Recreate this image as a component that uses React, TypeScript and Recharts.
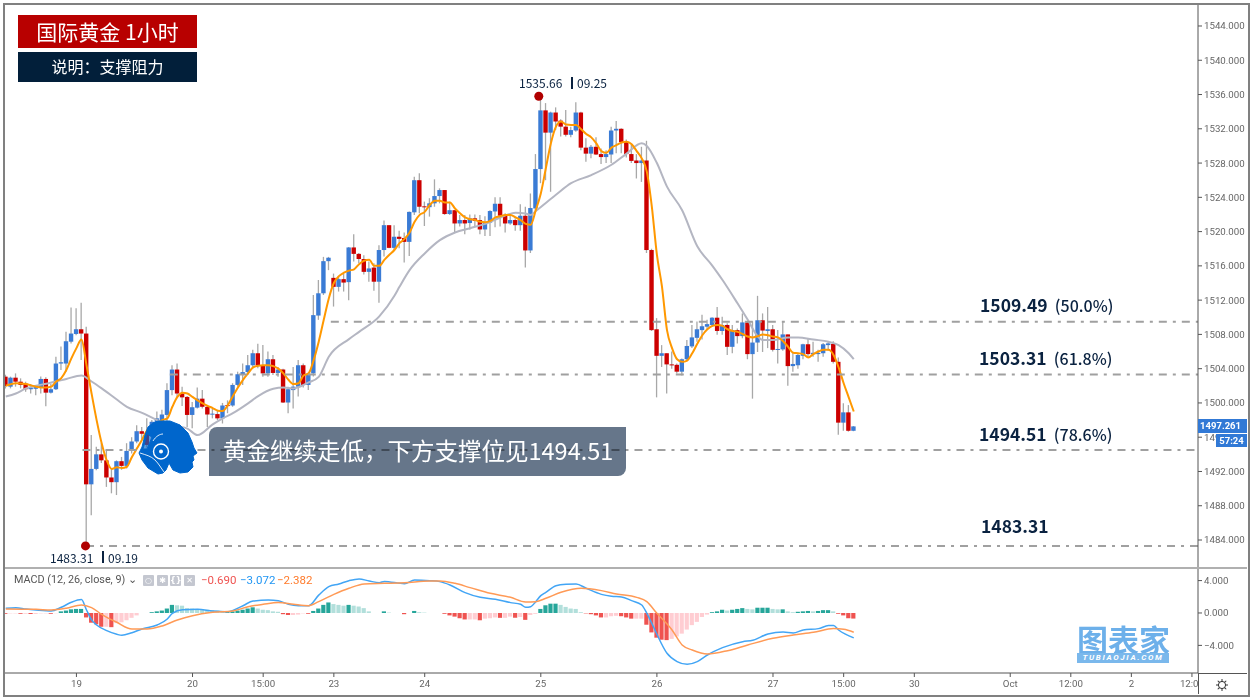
import { ComposedChart, Bar, Line, XAxis, YAxis, ReferenceLine, ReferenceDot, Cell } from 'recharts';

// open, high, low, close per hourly candle
const ohlc: number[][] = [
  [1503.07,1503.3,1501.7,1501.98],[1501.9,1503.07,1501.7,1502.95],[1502.95,1503.45,1501.9,1502.48],[1502.48,1502.87,1501.7,1502.1],
  [1502.25,1502.48,1501.3,1501.6],[1501.6,1502.2,1501.1,1501.8],[1501.65,1502.1,1500.9,1501.85],[1501.8,1503.1,1501.1,1502.8],
  [1502.8,1503,1499.6,1501.2],[1501.2,1502.2,1501.1,1501.6],[1501.6,1505.4,1501.5,1504.6],[1504.6,1506.6,1503.85,1504.75],
  [1504.6,1508.3,1503.65,1507.2],[1507.15,1511.15,1506.95,1508.1],[1508.05,1511.05,1507.9,1508.6],[1508.6,1511.7,1505,1508.1],
  [1508.1,1508.9,1483.31,1490.5],[1490.5,1496.25,1486.9,1492.3],[1492.3,1494.9,1492.15,1494],[1494,1495.3,1493,1493.3],
  [1493.3,1494.5,1490.2,1491.3],[1491.3,1492.4,1489.45,1490.75],[1490.75,1493.3,1489.25,1493.2],[1493.2,1493.7,1492.2,1492.65],
  [1492.65,1495.3,1492.35,1494.4],[1494.4,1496,1494.1,1495.5],[1495.5,1497.4,1495.3,1496.7],[1496.7,1497.2,1495.7,1496.4],
  [1496.45,1498.2,1494.8,1495.1],[1496.1,1498,1495.9,1497.8],[1497,1499,1496.8,1498.2],[1497.8,1499.2,1497.5,1498.65],
  [1498.6,1502.3,1497.6,1501.5],[1501.5,1504.4,1500.9,1503.9],[1503.9,1504.6,1500.7,1501.1],[1501.1,1501.9,1499.65,1500.65],
  [1500.7,1500.8,1497.2,1498.6],[1498.6,1500.1,1497.05,1499.5],[1499.45,1501.8,1499.35,1500.5],[1500.5,1501.5,1499.35,1499.55],
  [1499.55,1499.65,1497.2,1498.65],[1498.65,1499.35,1498.2,1498.75],[1498.7,1499.2,1498,1498.2],[1498.2,1500,1497.6,1499.7],
  [1499.75,1500.3,1498.8,1499.7],[1499.7,1502.3,1499.55,1502.1],[1502.1,1503.65,1501.9,1503.35],[1503.35,1504.6,1502.1,1503.6],
  [1503.6,1505.6,1503.25,1504.4],[1504.4,1506.2,1504.05,1505.8],[1505.8,1506.9,1504.05,1504.4],[1504.4,1506.75,1503.05,1503.45],
  [1503.45,1506,1503.05,1505.1],[1505.1,1505.6,1503.25,1503.5],[1503.5,1504.2,1503.05,1503.9],[1503.9,1504,1500,1500.05],
  [1500.05,1501.9,1498.8,1501.6],[1501.5,1504.2,1499.35,1501.9],[1501.9,1505,1500.75,1504.4],[1504.4,1504.6,1501.8,1502.1],
  [1502.1,1503.5,1501.5,1503.4],[1503.45,1512.6,1503.1,1510.25],[1510.2,1514.35,1509.7,1512.8],[1512.8,1517.05,1512.6,1516.55],
  [1516.55,1517.05,1515.5,1516.95],[1514.6,1515.1,1511.25,1513.55],[1513.55,1514.75,1513,1514.45],[1514.45,1515.1,1513,1514.05],
  [1514.1,1518.2,1512,1518.15],[1518.15,1519.7,1516.5,1517.4],[1517.4,1517.5,1516.3,1516.8],[1516.8,1517.25,1515,1515.3],
  [1515.3,1516.5,1514.15,1515.7],[1515.8,1516.3,1513.1,1514.15],[1514.15,1518.4,1511.7,1517.85],[1517.85,1521.3,1517.1,1520.75],
  [1520.75,1520.75,1518.05,1518.1],[1518.1,1520.75,1517.85,1519.4],[1519.4,1520.1,1518.05,1519.15],[1519.25,1519.9,1516.4,1518.8],
  [1518.8,1522.35,1517.15,1522.3],[1522.25,1526.4,1521.95,1526],[1526,1526.8,1522.15,1522.9],[1522.95,1523.5,1520.65,1522.9],
  [1522.85,1523.9,1521.75,1523.3],[1523.3,1526.1,1522.9,1524.15],[1524.15,1525.05,1523.3,1524.85],[1524.85,1524.85,1521.95,1522.05],
  [1522.05,1523.5,1521.95,1522.5],[1522.5,1522.5,1519.9,1520.95],[1520.95,1521.95,1520.6,1521.35],[1521.35,1521.95,1519.7,1520.95],
  [1521,1522,1520.25,1521.55],[1521.55,1522,1520.6,1521.25],[1521.35,1521.95,1519.7,1520.25],[1520.25,1521.8,1519.5,1521.1],
  [1521.05,1522.5,1519.5,1522.4],[1522.35,1524,1520.5,1523.25],[1523.25,1524,1520.6,1521.85],[1521.95,1522.15,1519.9,1520.95],
  [1520.95,1521.95,1520.8,1521.35],[1521.35,1521.55,1520.1,1520.75],[1520.75,1523.2,1520.1,1521.85],[1521.85,1522.9,1515.8,1517.8],
  [1517.8,1524.45,1517.5,1522.75],[1522.7,1529.05,1522.5,1527.3],[1527.3,1535.66,1525.65,1534.15],[1534.15,1535,1526,1531.55],
  [1531.55,1534,1524.65,1533.9],[1533.9,1534.5,1531.85,1532.85],[1532.95,1533.1,1531.1,1532.25],[1532.25,1534.2,1531.1,1531.3],
  [1531.3,1532.25,1531,1531.85],[1531.8,1535.1,1531.65,1533.9],[1533.9,1534,1529.5,1529.8],[1529.8,1530.9,1528.15,1529.1],
  [1529.1,1530.1,1528.55,1529.9],[1529.9,1531,1528.95,1529],[1529.05,1529.7,1527.9,1528.7],[1528.7,1529.5,1528,1529.05],
  [1529,1532.25,1528,1531.8],[1531.8,1532.9,1529.15,1532],[1532,1532.05,1529.15,1530.45],[1530.5,1530.75,1528.65,1529.05],
  [1529.05,1530.1,1528,1528.25],[1528.3,1529.05,1526.2,1528],[1528,1529.9,1525.8,1528.3],[1528.3,1530.6,1517.5,1517.85],
  [1517.85,1518,1508.4,1508.5],[1508.6,1509.9,1500.65,1505.5],[1505.5,1506.75,1504.2,1505.8],[1505.8,1505.8,1501.1,1504.5],
  [1504.5,1506,1504,1504.45],[1504.45,1504.6,1503.45,1503.65],[1503.65,1505.2,1503.2,1505.1],[1505.1,1507.35,1504.9,1506.65],
  [1506.6,1509.1,1506.4,1507.65],[1507.6,1509.5,1507.15,1508.6],[1508.5,1510.3,1507.4,1508.95],[1508.9,1509.7,1508.6,1509.2],
  [1509.1,1510,1508.9,1509.95],[1509.95,1511.2,1507.95,1508.4],[1508.4,1510.05,1507.95,1509.1],[1509.1,1509.3,1505.6,1506.55],
  [1506.55,1509.1,1505.8,1508.5],[1508.5,1508.7,1506.95,1507.8],[1507.8,1510.45,1507.55,1509.4],[1509.4,1509.5,1505.1,1505.7],
  [1505.7,1509.5,1500.5,1507.05],[1507.05,1512.5,1505.95,1509.65],[1509.65,1510.45,1505.95,1508.45],[1508.4,1511.2,1506.4,1508.6],
  [1508.6,1509.1,1506,1506.2],[1506.2,1508.5,1504.6,1506.3],[1506.25,1509.5,1506.1,1508],[1508,1508,1502,1504.3],
  [1504.3,1505.8,1503.65,1504.55],[1504.4,1505.7,1504,1505.6],[1505.5,1506.9,1505.1,1506.85],[1506.85,1507.55,1505.3,1505.7],
  [1505.7,1507.15,1505.4,1505.85],[1505.7,1506.2,1504.8,1505.85],[1505.8,1507,1505.4,1506.85],[1506.75,1507.2,1506.1,1506.95],
  [1506.9,1507.2,1504.6,1504.8],[1504.8,1505.3,1496.3,1497.7],[1497.7,1499.95,1496.75,1498.9],[1498.9,1499.75,1496.65,1496.75],
  [1496.75,1497.3,1496.7,1497.261],
];

// [candle index, value] readings of the indicator lines
const fastMa: number[][] = [
  [0,1502],[2,1502.3],[4,1502.2],[6,1501.9],[8,1501.8],[9,1501.9],[10,1502.5],[11,1502.9],[12,1503.85],[13,1505.2],[14,1506.4],[15,1507.4],
  [16,1504.4],[17,1501.1],[18,1498],[19,1495.3],[20,1493.3],[21,1492.3],[22,1492.5],[23,1492.4],[24,1492.55],[25,1493.7],[26,1494.7],[27,1495.7],
  [28,1496.8],[29,1497.2],[30,1497.6],[31,1498],[32,1498.2],[33,1499.55],[34,1500.7],[35,1501.2],[36,1501.1],[37,1500.7],[38,1500.3],[39,1499.95],
  [40,1499.65],[41,1499.4],[42,1499.1],[43,1499.05],[44,1499.75],[45,1500.8],[46,1501.8],[47,1502.7],[48,1503.45],[49,1504.15],[50,1504.35],[51,1504.4],
  [52,1504.4],[53,1504.3],[54,1504],[55,1503.45],[56,1502.7],[57,1502.2],[58,1502.3],[59,1503.2],[60,1503.45],[61,1505],[62,1507.15],[63,1509.7],
  [64,1512.2],[65,1514],[66,1514.8],[67,1515.2],[68,1515.45],[69,1515.6],[70,1516.2],[71,1516.6],[72,1516.7],[73,1516],[74,1516],[75,1516.7],
  [76,1517.3],[77,1517.85],[78,1518.65],[79,1519.15],[80,1519.9],[81,1521.15],[82,1521.95],[83,1522.3],[84,1523.1],[85,1523.6],[86,1523.6],[87,1523.4],
  [88,1523.4],[89,1522.7],[90,1522.15],[91,1521.65],[92,1521.45],[93,1521.35],[94,1521.15],[95,1521.1],[96,1521.25],[97,1521.65],[98,1521.8],[99,1521.95],
  [100,1521.95],[101,1521.65],[102,1521.35],[103,1520.9],[104,1520.8],[105,1522.5],[106,1524.45],[107,1527.4],[108,1530.3],[109,1532.25],[110,1532.85],[111,1532.5],
  [112,1532.45],[113,1532.45],[114,1531.95],[115,1531.4],[116,1531],[117,1530.3],[118,1529.4],[119,1529.2],[120,1529.8],[121,1530.1],[122,1530.4],[123,1530.5],
  [124,1530.2],[125,1529.4],[126,1528.55],[127,1527],[128,1522.9],[129,1517.3],[130,1513.6],[131,1508.5],[132,1506.4],[133,1505.1],[134,1504.8],[135,1504.95],
  [136,1505.8],[137,1506.9],[138,1507.9],[139,1508.6],[140,1509],[141,1509.1],[142,1509],[143,1508.6],[144,1508.4],[145,1508.3],[146,1508.05],[147,1507.75],
  [148,1507.65],[149,1507.8],[150,1508],[151,1507.9],[152,1507.75],[153,1507.65],[154,1507.2],[155,1506.55],[156,1505.85],[157,1505.8],[158,1505.7],[159,1505.3],
  [160,1505.7],[161,1506],[162,1506.2],[163,1506.2],[164,1505.6],[165,1504.15],[166,1502.3],[167,1500.65],[168,1499],
];
const slowMa: number[][] = [
  [0,1500.75],[2,1501.1],[4,1501.7],[6,1502],[8,1502.25],[10,1502.5],[12,1502.8],[15,1503.2],[17,1502.5],[19,1501.7],[22,1500.4],[24,1499.55],
  [27,1498.85],[30,1498],[33,1497.4],[36,1497],[38,1496.25],[41,1497.5],[43,1498.2],[45,1498.8],[48,1499.95],[50,1500.8],[53,1501.65],[55,1501.8],
  [57,1501.7],[60,1502.4],[62,1503.05],[64,1505.4],[68,1507.45],[70,1508.3],[74,1510.1],[77,1512.5],[78,1513.55],[80,1515.5],[83,1517.45],[86,1519],
  [89,1519.9],[92,1520.4],[95,1520.9],[98,1521.65],[101,1522.2],[103,1522.1],[104,1521.95],[105,1522.4],[109,1524.3],[112,1525.65],[116,1526.6],[120,1527.8],
  [123,1529.1],[126,1530.3],[127,1530],[129,1528],[131,1525.25],[134,1522.5],[137,1518.3],[140,1516],[142,1514.35],[145,1511.6],[147,1509.7],[149,1507.75],
  [150,1507.35],[152,1507.35],[155,1507.65],[157,1507.65],[160,1507.4],[163,1507.15],[165,1506.75],[167,1505.8],[168,1505.1],
];
const macdLine: number[][] = [
  [0,0.58],[2,0.66],[4,0.49],[6,0.37],[9,0.25],[11,0.7],[13,1.32],[15,1.65],[16,0.37],[17,-0.86],[18,-1.48],[20,-2.18],[22,-2.63],[23,-2.76],[25,-2.43],
  [27,-1.98],[30,-1.48],[32,-0.74],[33,-0.04],[35,0.41],[38,0.45],[41,0.25],[44,0.16],[47,0.9],[49,1.48],[52,1.6],[54,1.52],[56,1.07],[58,0.9],[60,0.9],
  [62,2.2],[64,3.25],[66,3.58],[68,3.99],[70,4.2],[72,3.95],[74,3.74],[75,3.9],[79,3.62],[81,4.07],[84,3.99],[86,3.87],[88,3.46],[91,2.51],[94,1.93],
  [97,1.69],[100,1.28],[102,1.07],[103,0.7],[104,0.78],[105,1.4],[106,2.14],[107,2.55],[109,3.37],[111,3.54],[113,3.58],[115,3.05],[118,2.3],[120,2.06],[122,1.98],
  [124,1.52],[126,0.99],[127,-0.04],[128,-1.28],[129,-2.63],[131,-4.98],[133,-6],[135,-6.34],[137,-6],[139,-5.19],[142,-4.28],[146,-3.54],[148,-3.37],[151,-2.59],
  [154,-2.35],[156,-2.47],[158,-2.1],[161,-1.93],[163,-1.56],[164,-1.56],[165,-2.1],[168,-3.072],
];
const signalLine: number[][] = [
  [0,0.49],[6,0.45],[9,0.37],[12,0.58],[15,0.99],[17,0.66],[19,-0.16],[22,-1.15],[25,-1.98],[28,-1.98],[31,-1.6],[34,-0.86],[37,-0.33],[41,0.08],[45,0.25],
  [48,0.78],[51,1.07],[54,1.28],[57,1.07],[60,0.9],[62,1.4],[65,2.3],[68,3.05],[71,3.58],[75,3.66],[79,3.74],[84,3.95],[86,3.95],[89,3.66],[92,3.13],
  [96,2.43],[100,1.93],[103,1.36],[105,1.4],[107,1.81],[110,2.55],[114,3.05],[118,2.76],[121,2.35],[125,1.93],[127,1.4],[129,-0.04],[132,-2.1],[134,-3.95],[136,-4.57],
  [139,-5.06],[143,-4.65],[147,-3.95],[152,-3.13],[156,-2.72],[160,-2.39],[164,-1.93],[166,-2.02],[168,-2.382],
];
const macdHist = [
  -0.1,-0.05,-0.05,-0.1,-0.1,-0.12,-0.12,-0.05,-0.05,-0.1,-0.03,
  0.2,0.3,0.45,0.5,0.5,
  -0.55,-1.2,-1.4,-1.7,-1.7,-1.75,-1.25,-1.15,-0.9,-0.6,-0.3,0,0,
  0.1,0.2,0.3,0.55,1,0.95,0.9,0.6,0.55,0.5,0.45,0.4,0.35,0.3,
  0.15,0.2,0.2,0.3,0.4,0.55,0.7,0.55,0.4,0.35,0.2,0.15,
  -0.15,-0.25,-0.25,-0.2,-0.05,-0.1,
  0.25,0.55,1,1.3,1.1,1,0.9,1,0.9,0.8,0.6,0.2,0,0,0.2,0.05,0,0,-0.15,0,0.25,0.1,0.05,0,0,0,
  -0.1,-0.3,-0.45,-0.65,-0.8,-0.8,-0.8,-0.9,-0.7,-0.65,-0.55,-0.6,-0.6,-0.45,-0.6,-0.5,-0.85,-0.25,-0.1,
  0.5,0.95,1.15,1.15,1,0.75,0.55,0.5,0.1,
  -0.05,-0.15,-0.3,-0.55,-0.55,-0.4,-0.35,-0.4,-0.55,-0.7,-0.7,-0.7,-1.45,-2.4,-3.05,-3.3,-3.35,-3.2,-2.9,-2.55,-2.05,-1.5,-1.1,-0.5,-0.2,
  0.1,0.2,0.4,0.3,0.4,0.5,0.6,0.5,0.45,0.65,0.65,0.65,0.5,0.45,0.45,0.2,0.1,0.15,0.2,0.25,0.2,0.25,0.35,0.35,0.2,
  -0.1,-0.3,-0.65,-0.69,
];

const priceTicks = [1484,1488,1492,1496,1500,1504,1508,1512,1516,1520,1524,1528,1532,1536,1540,1544];
const macdTicks = [-4,0,4];
const timeTicks = [14,37,51,65,83,106,129,152,166,180,199,211,223,235];
const timeLabels = ['19','20','15:00','23','24','25','26','27','15:00','30','Oct','12:00','2','12:00'];
const levels = [
  { price: 1509.49, from: 64.4 },
  { price: 1503.31, from: 32.5 },
  { price: 1494.51, from: 15.2 },
  { price: 1483.31, from: 15.9 },
];

const lookup = (pairs: number[][], i: number) => {
  const hit = pairs.find((p) => p[0] === i);
  return hit ? hit[1] : null;
};

const rows = ohlc.map((c, i) => ({
  i,
  open: c[0],
  close: c[3],
  range: [c[2], c[1]],
  fast: lookup(fastMa, i),
  slow: lookup(slowMa, i),
  macd: lookup(macdLine, i),
  signal: lookup(signalLine, i),
  hist: macdHist[i],
}));

const histColor = (i: number) => {
  const v = macdHist[i];
  const prev = i > 0 ? macdHist[i - 1] : 0;
  if (v >= 0) return v >= prev ? '#26a69a' : '#b2dfdb';
  return v < prev ? '#ef5350' : '#ffcdd2';
};

const xDomain: [number, number] = [-0.15, 236.2];
const axisFont = { fontSize: 9.7, fill: '#666', fontFamily: 'Roboto' };
const cjk = '"Noto Sans CJK SC"';

const Candle = (props: any) => {
  const { x, y, width, height, payload } = props;
  const [low, high] = payload.range;
  const unit = height / (high - low);
  const top = y + (high - Math.max(payload.open, payload.close)) * unit;
  const bottom = y + (high - Math.min(payload.open, payload.close)) * unit;
  const up = payload.close >= payload.open;
  const mid = x + width / 2;
  return (
    <g>
      <line x1={mid} x2={mid} y1={y} y2={y + height} stroke="#a8a8a8" strokeWidth={1.3} />
      <rect x={x} y={top} width={width} height={Math.max(bottom - top, 1)} fill={up ? '#3a7bd5' : '#cc0000'} />
    </g>
  );
};

const Note = ({ left, top, size, children, weight = 400, color = '#0a2240' }: any) => (
  <div style={{ position: 'absolute', left, top, fontSize: size, fontWeight: weight, color, fontFamily: cjk, whiteSpace: 'pre', lineHeight: 1 }}>
    {children}
  </div>
);

const Level = ({ left, top, value, pct }: any) => (
  <div style={{ position: 'absolute', left, top, color: '#0a2240', fontFamily: cjk, whiteSpace: 'pre', lineHeight: 1 }}>
    <span style={{ fontSize: 17.5, fontWeight: 700 }}>{value}</span>
    <span style={{ fontSize: 16, fontWeight: 500 }}>{pct}</span>
  </div>
);

const Logo = () => (
  <svg width={1253} height={699} style={{ position: 'absolute', left: 0, top: 0, pointerEvents: 'none' }}>
    <path
      fillRule="evenodd"
      d="M148 427 L153 423 L158 421 L170 421 L180 425 L188 433 L192 442 L194 448 L197 453 L193 456 L194 460 L192 462 L193 467 L188 472 L180 473 L173 470 L169 463 L166 470 L163 473 L158 474 L148 468 L142 460 L139 453 L142 447 L145 435 Z
         M147 434 L143 449 L147 449 L152 437 Z"
      fill="#0066cc"
      stroke="#0066cc"
      strokeLinejoin="round"
    />
    <path d="M147 434 L143 449 L147 449 L152 437 Z" fill="#0066cc" opacity={0.65} />
    <path d="M140 453 C146 455 151 456 155 460 C159 464 161 468 164 472" fill="none" stroke="#fff" strokeWidth={1} opacity={0.85} />
    <path d="M153 441 C156 436 160 434 163 434" fill="none" stroke="#fff" strokeWidth={1} opacity={0.85} />
    <circle cx={161} cy={451.5} r={7.5} fill="none" stroke="#fff" strokeWidth={1.4} />
    <circle cx={161} cy={451.5} r={2} fill="#fff" />
  </svg>
);

export default function App() {
  return (
    <div style={{ position: 'absolute', left: 0, top: 0, width: 1253, height: 699, background: '#fff', overflow: 'hidden' }}>
      <div style={{ position: 'absolute', left: 5, top: 5 }}>
        <ComposedChart width={1242} height={562} data={rows} margin={{ top: 0, right: 0, bottom: 0, left: 0 }}>
          <XAxis dataKey="i" type="number" domain={xDomain} allowDataOverflow hide />
          <YAxis
            orientation="right"
            width={49}
            domain={[1480.85, 1546.45]}
            allowDataOverflow
            ticks={priceTicks}
            interval={0}
            tick={axisFont}
            tickSize={4}
            tickMargin={2}
            stroke="#555"
            tickFormatter={(v: number) => v.toFixed(3)}
          />
          <Bar dataKey="range" barSize={4.4} shape={<Candle />} isAnimationActive={false} />
          <Line type="monotone" dataKey="slow" stroke="#b4b6c2" strokeWidth={2} dot={false} connectNulls isAnimationActive={false} />
          <Line type="monotone" dataKey="fast" stroke="#ff9800" strokeWidth={2} dot={false} connectNulls isAnimationActive={false} />
          {levels.map((l) => (
            <ReferenceLine
              key={l.price}
              segment={[{ x: l.from, y: l.price }, { x: xDomain[1], y: l.price }]}
              stroke="#a0a0a0"
              strokeWidth={2}
              strokeDasharray="8 6 3 6"
            />
          ))}
          <ReferenceDot x={105.6} y={1535.8} r={4.5} fill="#b00000" stroke="none" />
          <ReferenceDot x={15.8} y={1483.31} r={4.5} fill="#b00000" stroke="none" />
        </ComposedChart>
      </div>

      <div style={{ position: 'absolute', left: 5, top: 569 }}>
        <ComposedChart width={1242} height={125} data={rows} margin={{ top: 0, right: 0, bottom: 0, left: 0 }}>
          <XAxis
            dataKey="i"
            type="number"
            domain={xDomain}
            allowDataOverflow
            ticks={timeTicks}
            interval={0}
            height={21}
            tick={axisFont}
            tickSize={4}
            tickMargin={3}
            stroke="#555"
            tickFormatter={(v: number) => timeLabels[timeTicks.indexOf(v)]}
          />
          <YAxis
            orientation="right"
            width={49}
            domain={[-7.41, 5.43]}
            allowDataOverflow
            ticks={macdTicks}
            interval={0}
            tick={axisFont}
            tickSize={4}
            tickMargin={2}
            stroke="#555"
            tickFormatter={(v: number) => v.toFixed(3).replace('-', '\u2212')}
          />
          <Bar dataKey="hist" barSize={4.2} isAnimationActive={false}>
            {rows.map((r) => (
              <Cell key={r.i} fill={histColor(r.i)} />
            ))}
          </Bar>
          <Line type="monotone" dataKey="macd" stroke="#42a5f5" strokeWidth={1.5} dot={false} connectNulls isAnimationActive={false} />
          <Line type="monotone" dataKey="signal" stroke="#ff9a56" strokeWidth={1.5} dot={false} connectNulls isAnimationActive={false} />
        </ComposedChart>
      </div>

      {/* frame, pane separator and the corner cell */}
      <div style={{ position: 'absolute', left: 1199, top: 674, width: 47, height: 19, background: '#fff' }} />
      <div style={{ position: 'absolute', left: 1198, top: 673, width: 1, height: 21, background: '#555' }} />
      <div style={{ position: 'absolute', left: 1198, top: 673, width: 49, height: 1, background: '#555' }} />
      <div style={{ position: 'absolute', left: 5, top: 567, width: 1242, height: 2, background: '#b0b0b0' }} />
      <div style={{ position: 'absolute', left: 3, top: 3, width: 1243, height: 690, border: '2px solid #808080', pointerEvents: 'none' }} />
      <svg width={16} height={16} viewBox="-8 -8 16 16" style={{ position: 'absolute', left: 1214, top: 677 }}>
        <circle r={3.6} fill="none" stroke="#333" />
        {[0, 45, 90, 135, 180, 225, 270, 315].map((a) => (
          <line key={a} x1={0} y1={3.6} x2={0} y2={6} stroke="#333" transform={`rotate(${a})`} />
        ))}
      </svg>

      {/* last price tags */}
      <div style={{ position: 'absolute', left: 1198, top: 419, width: 49, height: 14, background: '#3179d6', color: '#fff', fontSize: 9.5, fontWeight: 700, fontFamily: 'Roboto', lineHeight: '14px', textAlign: 'right', paddingRight: 6, boxSizing: 'border-box' }}>1497.261</div>
      <div style={{ position: 'absolute', left: 1216, top: 434, width: 31, height: 13, background: '#3179d6', color: '#fff', fontSize: 9.5, fontWeight: 700, fontFamily: 'Roboto', lineHeight: '13px', textAlign: 'center' }}>57:24</div>

      {/* title boxes */}
      <div style={{ position: 'absolute', left: 18, top: 15, width: 179, height: 33, background: '#b80000', color: '#fff', fontFamily: cjk, fontSize: 21, lineHeight: '32px', textAlign: 'center', whiteSpace: 'pre' }}>国际黄金 1小时</div>
      <div style={{ position: 'absolute', left: 18, top: 52, width: 179, height: 30, background: '#021f3a', color: '#fff', fontFamily: cjk, fontSize: 16, lineHeight: '29px', textAlign: 'center', whiteSpace: 'pre' }}>说明：支撑阻力</div>

      {/* swing point notes */}
      <Note left={519} top={77} size={12}>1535.66</Note>
      <div style={{ position: 'absolute', left: 571, top: 77, width: 2, height: 12, background: '#0a2240' }} />
      <Note left={577} top={77} size={12}>09.25</Note>
      <Note left={50} top={552} size={12}>1483.31</Note>
      <div style={{ position: 'absolute', left: 102, top: 551, width: 2, height: 12, background: '#0a2240' }} />
      <Note left={108} top={552} size={12}>09.19</Note>

      {/* level labels */}
      <Level left={980} top={296} value="1509.49" pct="  (50.0%)" />
      <Level left={979} top={349} value="1503.31" pct="  (61.8%)" />
      <Level left={979} top={425} value="1494.51" pct="  (78.6%)" />
      <Level left={981} top={517} value="1483.31" pct="" />

      {/* callout */}
      <div style={{ position: 'absolute', left: 209, top: 427, width: 417, height: 49, background: '#66768a', borderRadius: '8px 0 8px 0', mixBlendMode: 'multiply' }} />
      <div style={{ position: 'absolute', left: 223, top: 427, height: 49, color: '#fff', fontFamily: cjk, fontSize: 23.5, lineHeight: '47px', whiteSpace: 'pre' }}>黄金继续走低，下方支撑位见1494.51</div>
      <Logo />

      {/* MACD legend */}
      <div style={{ position: 'absolute', left: 14, top: 575, fontSize: 10.8, color: '#555', fontFamily: 'Roboto', whiteSpace: 'pre', lineHeight: 1 }}>MACD (12, 26, close, 9) ⌄</div>
      {[
        { left: 143, glyph: '○' },
        { left: 157, glyph: '✱' },
        { left: 170, glyph: '{}' },
        { left: 184, glyph: '✕' },
      ].map((b) => (
        <div key={b.left} style={{ position: 'absolute', left: b.left, top: 575, width: 11, height: 11, background: '#c4c7d0', borderRadius: 1, color: '#fff', fontSize: 8, fontWeight: 700, fontFamily: 'DejaVu Sans', lineHeight: '11px', textAlign: 'center' }}>{b.glyph}</div>
      ))}
      <div style={{ position: 'absolute', left: 201, top: 575, fontSize: 11.5, color: '#ef5350', fontFamily: 'Roboto', lineHeight: 1 }}>{'\u22120.690'}</div>
      <div style={{ position: 'absolute', left: 240, top: 575, fontSize: 11.5, color: '#2196f3', fontFamily: 'Roboto', lineHeight: 1 }}>{'\u22123.072'}</div>
      <div style={{ position: 'absolute', left: 277, top: 575, fontSize: 11.5, color: '#ff7a2a', fontFamily: 'Roboto', lineHeight: 1 }}>{'\u22122.382'}</div>

      {/* watermark */}
      <div style={{ position: 'absolute', left: 1077, top: 625, width: 92, height: 27, fontFamily: cjk, fontSize: 31, fontWeight: 700, color: '#6db0ea', lineHeight: '27px', whiteSpace: 'pre', textAlign: 'center' }}>图表家</div>
      <div style={{ position: 'absolute', left: 1077, top: 653, width: 92, height: 10, background: '#7ab8ec', color: '#fff', fontFamily: 'Roboto', fontSize: 8, fontWeight: 700, fontStyle: 'italic', letterSpacing: 1.7, lineHeight: '10px', textAlign: 'center', whiteSpace: 'pre' }}>TUBIAOJIA.COM</div>
    </div>
  );
}
